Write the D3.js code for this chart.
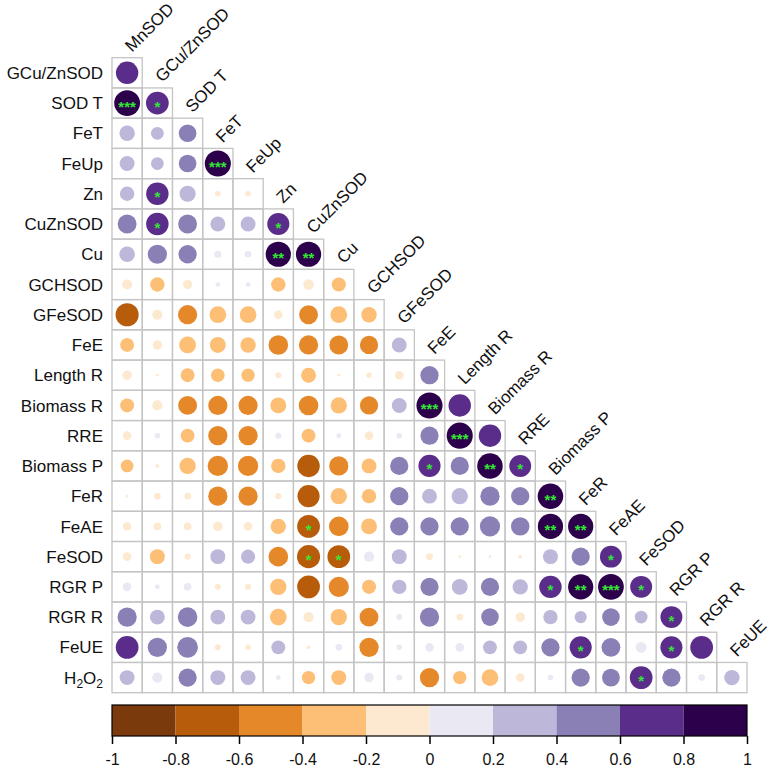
<!DOCTYPE html>
<html>
<head>
<meta charset="utf-8">
<script src="https://cdn.jsdelivr.net/npm/d3@7"></script>
<style>
  body { margin: 0; background: #fff; }
  svg { font-family: "Liberation Sans", Arial, sans-serif; }
</style>
</head>
<body>
<div id="chart"></div>
<script>
// variable names in plot order
const variables = ["MnSOD", "GCu/ZnSOD", "SOD T", "FeT", "FeUp", "Zn", "CuZnSOD", "Cu",
  "GCHSOD", "GFeSOD", "FeE", "Length R", "Biomass R", "RRE", "Biomass P", "FeR",
  "FeAE", "FeSOD", "RGR P", "RGR R", "FeUE", "H2O2"];

// lower triangle, row k = correlations of variables[k+1] with variables[0..k]
const corrRows = [
  [0.68],
  [0.9, 0.7],
  [0.32, 0.22, 0.42],
  [0.3, 0.22, 0.42, 0.92],
  [0.28, 0.68, 0.35, -0.04, -0.04],
  [0.48, 0.68, 0.48, 0.3, 0.3, 0.66],
  [0.33, 0.5, 0.45, 0.07, 0.06, 0.86, 0.86],
  [-0.14, -0.28, -0.12, 0.03, 0.03, -0.28, -0.15, -0.27],
  [-0.72, -0.14, -0.5, -0.38, -0.38, -0.1, -0.48, -0.38, -0.32],
  [-0.26, -0.12, -0.38, -0.34, -0.32, -0.52, -0.5, -0.48, -0.45, 0.3],
  [-0.12, -0.01, -0.26, -0.25, -0.24, -0.05, -0.3, -0.01, -0.04, -0.1, 0.45],
  [-0.26, -0.14, -0.48, -0.5, -0.5, -0.34, -0.52, -0.36, -0.45, 0.3, 0.92, 0.68],
  [-0.1, 0.04, -0.26, -0.5, -0.5, 0.05, -0.26, 0.03, -0.1, 0.04, 0.45, 0.92, 0.68],
  [-0.22, -0.02, -0.36, -0.56, -0.56, -0.28, -0.68, -0.5, -0.3, 0.45, 0.66, 0.45, 0.88, 0.65],
  [-0.01, -0.06, -0.06, -0.5, -0.5, -0.05, -0.66, -0.36, -0.28, 0.45, 0.3, 0.36, 0.5, 0.45, 0.88],
  [-0.09, -0.08, -0.08, -0.12, -0.1, -0.32, -0.7, -0.52, -0.34, 0.45, 0.45, 0.45, 0.55, 0.46, 0.86, 0.86],
  [-0.1, -0.3, -0.05, 0.3, 0.27, -0.52, -0.72, -0.7, 0.14, 0.3, -0.06, -0.01, 0.01, -0.02, 0.3, 0.45, 0.65],
  [0.1, 0.03, 0.08, -0.05, -0.05, -0.36, -0.7, -0.55, -0.27, 0.28, 0.45, 0.34, 0.45, 0.32, 0.68, 0.86, 0.9, 0.65],
  [0.5, 0.3, 0.52, 0.3, 0.3, -0.38, -0.14, -0.36, -0.48, 0.05, 0.5, -0.06, 0.42, -0.12, 0.28, 0.2, 0.42, 0.22, 0.65],
  [0.7, 0.5, 0.58, -0.05, -0.04, 0.26, -0.02, 0.06, -0.5, 0.04, 0.1, 0.1, 0.26, 0.26, 0.45, 0.66, 0.48, 0.16, 0.66, 0.7],
  [0.3, 0.14, 0.45, 0.3, 0.3, 0.03, -0.24, -0.3, 0.12, 0.05, -0.5, -0.24, -0.38, -0.1, 0.04, 0.45, 0.43, 0.7, 0.45, 0.06, 0.32]
];

// significant pairs [row variable, column variable, stars]
const sigCells = [
  ["SOD T", "MnSOD", "***"], ["SOD T", "GCu/ZnSOD", "*"],
  ["FeUp", "FeT", "***"], ["Zn", "GCu/ZnSOD", "*"],
  ["CuZnSOD", "GCu/ZnSOD", "*"], ["CuZnSOD", "Zn", "*"],
  ["Cu", "Zn", "**"], ["Cu", "CuZnSOD", "**"],
  ["Biomass R", "FeE", "***"], ["RRE", "Length R", "***"],
  ["Biomass P", "FeE", "*"], ["Biomass P", "Biomass R", "**"], ["Biomass P", "RRE", "*"],
  ["FeR", "Biomass P", "**"],
  ["FeAE", "CuZnSOD", "*"], ["FeAE", "Biomass P", "**"], ["FeAE", "FeR", "**"],
  ["FeSOD", "CuZnSOD", "*"], ["FeSOD", "Cu", "*"], ["FeSOD", "FeAE", "*"],
  ["RGR P", "Biomass P", "*"], ["RGR P", "FeR", "**"], ["RGR P", "FeAE", "***"], ["RGR P", "FeSOD", "*"],
  ["RGR R", "RGR P", "*"],
  ["FeUE", "FeR", "*"], ["FeUE", "RGR P", "*"],
  ["H2O2", "FeSOD", "*"]
];

const colorBreaks = [-0.8, -0.6, -0.4, -0.2, 0, 0.2, 0.4, 0.6, 0.8];
const colorTicks = [-1, -0.8, -0.6, -0.4, -0.2, 0, 0.2, 0.4, 0.6, 0.8, 1];
const palette = ["#7b3a0b", "#b65c0a", "#e5882a", "#fdbf75", "#fde9d0",
  "#e9e8f3", "#bdb8da", "#8b80b6", "#5a2d8b", "#2d004b"];

const width = 774, height = 771;
const rowVars = variables.slice(1);
const colVars = variables.slice(0, -1);

const x = d3.scaleBand().domain(colVars).range([112, 747]);
const y = d3.scaleBand().domain(rowVars).range([57.7, 692.7]);
const color = d3.scaleThreshold().domain(colorBreaks).range(palette);
const bw = x.bandwidth();
const rad = d3.scaleSqrt().domain([0, 1]).range([0, 0.45 * bw]);

const cells = [];
corrRows.forEach((row, i) => {
  row.forEach((v, j) => {
    cells.push({row: rowVars[i], col: colVars[j], r: v});
  });
});
const sigMap = new Map(sigCells.map(d => [d[0] + "|" + d[1], d[2]]));

const svg = d3.select("#chart").append("svg")
  .attr("width", width)
  .attr("height", height);

// cell boxes
svg.append("g").selectAll("rect")
  .data(cells)
  .enter().append("rect")
  .attr("x", d => x(d.col))
  .attr("y", d => y(d.row))
  .attr("width", bw)
  .attr("height", y.bandwidth())
  .attr("fill", "none")
  .attr("stroke", "#c4c4c4")
  .attr("stroke-width", 1.3);

// circles
svg.append("g").selectAll("circle")
  .data(cells)
  .enter().append("circle")
  .attr("cx", d => x(d.col) + bw / 2)
  .attr("cy", d => y(d.row) + y.bandwidth() / 2)
  .attr("r", d => rad(Math.abs(d.r)))
  .attr("fill", d => color(d.r));

// significance stars
svg.append("g").selectAll("text")
  .data(cells.filter(d => sigMap.has(d.row + "|" + d.col)))
  .enter().append("text")
  .attr("x", d => x(d.col) + bw / 2)
  .attr("y", d => y(d.row) + y.bandwidth() / 2 + 8.5)
  .attr("text-anchor", "middle")
  .attr("font-size", "15px")
  .attr("font-weight", "bold")
  .attr("fill", "#33e633")
  .text(d => sigMap.get(d.row + "|" + d.col));

// row labels
const rowLab = svg.append("g").selectAll("text")
  .data(rowVars)
  .enter().append("text")
  .attr("x", 103)
  .attr("y", d => y(d) + y.bandwidth() / 2)
  .attr("dy", "0.36em")
  .attr("text-anchor", "end")
  .attr("font-size", "17px")
  .attr("fill", "#111");
rowLab.each(function(d) {
  const t = d3.select(this);
  if (d === "H2O2") {
    t.append("tspan").text("H");
    t.append("tspan").attr("font-size", "12px").attr("dy", 4).text("2");
    t.append("tspan").attr("dy", -4).text("O");
    t.append("tspan").attr("font-size", "12px").attr("dy", 4).text("2");
  } else {
    t.text(d);
  }
});

// column labels (diagonal)
svg.append("g").selectAll("text")
  .data(colVars)
  .enter().append("text")
  .attr("transform", (d, i) => {
    const cx = x(d) + bw / 2 + 5;
    const top = y(rowVars[i]) - 5;
    return "translate(" + cx + "," + top + ") rotate(-45)";
  })
  .attr("font-size", "17px")
  .attr("fill", "#111")
  .text(d => d);

// colour legend
const lx = d3.scaleLinear().domain([-1, 1]).range([112, 747]);
const legTop = 705, legH = 31;
const bins = colorTicks.slice(0, -1).map((v, i) => ({a: v, b: colorTicks[i + 1]}));

svg.append("g").selectAll("rect")
  .data(bins)
  .enter().append("rect")
  .attr("x", d => lx(d.a))
  .attr("y", legTop)
  .attr("width", d => lx(d.b) - lx(d.a))
  .attr("height", legH)
  .attr("fill", d => color((d.a + d.b) / 2));

svg.append("rect")
  .attr("x", lx(-1))
  .attr("y", legTop)
  .attr("width", lx(1) - lx(-1))
  .attr("height", legH)
  .attr("fill", "none")
  .attr("stroke", "#000")
  .attr("stroke-width", 1.2);

const axis = svg.append("g")
  .attr("transform", "translate(0," + (legTop + legH) + ")")
  .call(d3.axisBottom(lx)
    .tickValues(colorTicks)
    .tickFormat(d => String(d))
    .tickSize(8)
    .tickPadding(10));
axis.select(".domain").remove();
axis.selectAll("line").attr("stroke", "#000").attr("stroke-width", 1.5);
axis.selectAll("text")
  .attr("font-size", "16px")
  .attr("font-family", "Liberation Sans, Arial, sans-serif")
  .attr("fill", "#111");
</script>
</body>
</html>
